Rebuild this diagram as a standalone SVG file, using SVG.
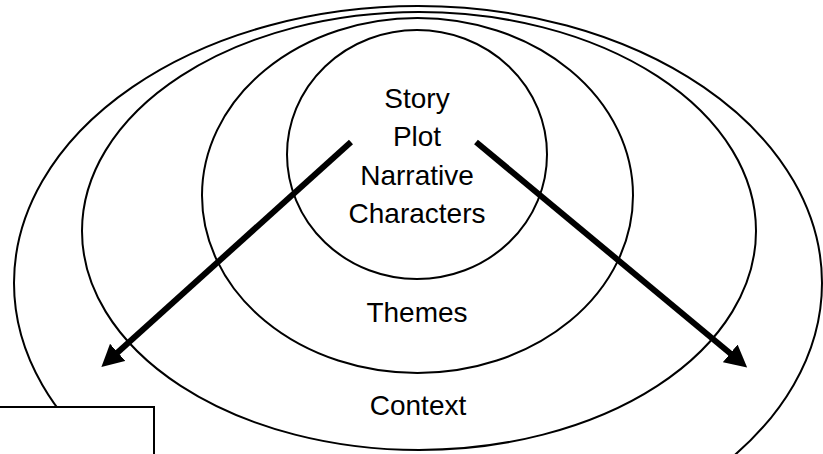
<svg xmlns="http://www.w3.org/2000/svg" width="823" height="454" viewBox="0 0 823 454">
  <style>
    .ring { fill: none; stroke: #000; stroke-width: 2; }
    .lbl { font-family: "Liberation Sans", Arial, sans-serif; font-size: 28px; fill: #000; text-anchor: middle; }
    .shaft { stroke: #000; stroke-width: 6; fill: none; }
    .box { fill: #fff; stroke: #000; stroke-width: 2; }
  </style>
  <defs>
    <marker id="head" markerUnits="userSpaceOnUse" markerWidth="24" markerHeight="24" refX="1" refY="11.5" orient="auto">
      <path d="M0,0 L22,11.5 L0,23 Z" fill="#000"/>
    </marker>
  </defs>
  <rect width="823" height="454" fill="#fff"/>
  <g id="outer">
    <ellipse class="ring" cx="418" cy="283" rx="404" ry="277"/>
  </g>
  <g id="context">
    <ellipse class="ring" cx="419" cy="231" rx="337" ry="219"/>
    <text class="lbl" x="418" y="415">Context</text>
  </g>
  <g id="themes">
    <ellipse class="ring" cx="417.5" cy="195.5" rx="215.5" ry="177.5"/>
    <text class="lbl" x="417" y="322">Themes</text>
  </g>
  <g id="core">
    <ellipse class="ring" cx="417" cy="154.5" rx="130" ry="124.5"/>
    <text class="lbl" x="417" y="108">Story</text>
    <text class="lbl" x="417" y="146">Plot</text>
    <text class="lbl" x="417" y="185">Narrative</text>
    <text class="lbl" x="417" y="223">Characters</text>
  </g>
  <g id="box">
    <rect class="box" x="-5" y="407" width="159" height="60"/>
  </g>
  <g id="connectors">
    <line class="shaft" x1="351" y1="142" x2="117" y2="353" marker-end="url(#head)"/>
    <line class="shaft" x1="476" y1="142" x2="731" y2="354" marker-end="url(#head)"/>
  </g>
</svg>
